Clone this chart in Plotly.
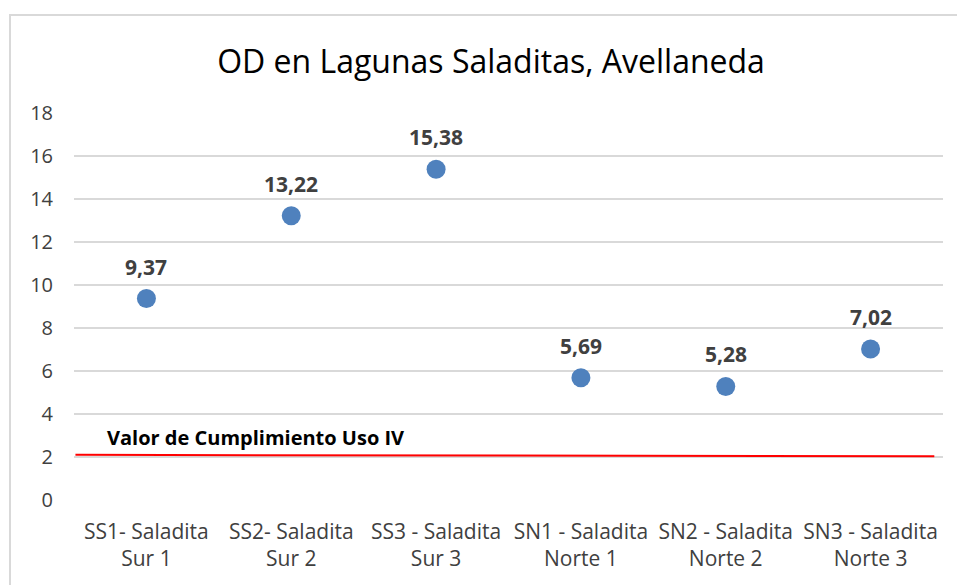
import plotly.graph_objects as go

categories = ["SS1- Saladita<br>Sur 1", "SS2- Saladita<br>Sur 2", "SS3 - Saladita<br>Sur 3",
              "SN1 - Saladita<br>Norte 1", "SN2 - Saladita<br>Norte 2", "SN3 - Saladita<br>Norte 3"]
od_values = [9.37, 13.22, 15.38, 5.69, 5.28, 7.02]
threshold_x = [-0.49, 5.44]
threshold_y = [2.1, 2.03]
threshold_label = "Valor de Cumplimiento Uso IV"
y_ticks = [0, 2, 4, 6, 8, 10, 12, 14, 16, 18]

FONT = "Open Sans"
W, H = 957, 585
L, R, T, B = 74, 14, 113, 85

xs = list(range(len(categories)))
labels = [f"{v:.2f}".replace(".", ",") for v in od_values]

fig = go.Figure()
fig.add_trace(go.Scatter(x=threshold_x, y=threshold_y, mode="lines",
                         line=dict(color="#FF0000", width=2), hoverinfo="skip", showlegend=False))
fig.add_trace(go.Scatter(x=xs, y=od_values, mode="markers",
                         marker=dict(color="#4F81BD", size=19), showlegend=False))

for x, v, t in zip(xs, od_values, labels):
    fig.add_annotation(x=x, y=v, text=f"<b>{t}</b>", showarrow=False, yshift=32,
                       font=dict(family=FONT, size=21, color="#404040"))

fig.add_annotation(x=threshold_x[0], y=threshold_y[0], xref="x", yref="y",
                   text=f"<b>{threshold_label}</b>", showarrow=False,
                   xanchor="left", xshift=30, yshift=17,
                   font=dict(family=FONT, size=20, color="#000000"))

pw = W - L - R
ph = H - T - B
fig.add_shape(type="rect", xref="paper", yref="paper",
              x0=(10 - L) / pw, x1=(W + 5 - L) / pw,
              y0=(H - B - (H + 5)) / ph, y1=(H - B - 15) / ph,
              line=dict(color="#D9D9D9", width=2), fillcolor="rgba(0,0,0,0)", layer="below")

fig.update_layout(
    width=W, height=H,
    margin=dict(l=L, r=R, t=T, b=B),
    paper_bgcolor="white", plot_bgcolor="white",
    title=dict(text="OD en Lagunas Saladitas, Avellaneda", x=491 / W, xanchor="center",
               y=1 - 62 / H, yanchor="middle",
               font=dict(family=FONT, size=32, color="#000000")),
    xaxis=dict(range=[-0.5, 5.5], tickvals=xs, ticktext=categories, showgrid=False,
               zeroline=False, showline=False, ticks="",
               ticklabelstandoff=17,
               tickfont=dict(family=FONT, size=21, color="#404040")),
    yaxis=dict(range=[0, 18], tickvals=y_ticks, showgrid=True, gridcolor="#D9D9D9",
               gridwidth=2, zeroline=False, showline=False, ticks="",
               ticklabelstandoff=20,
               tickfont=dict(family=FONT, size=20, color="#404040")),
)
fig.write_html("out.html", config={"displayModeBar": False},
               post_script="document.body.style.margin='0';document.body.style.overflow='hidden';")
